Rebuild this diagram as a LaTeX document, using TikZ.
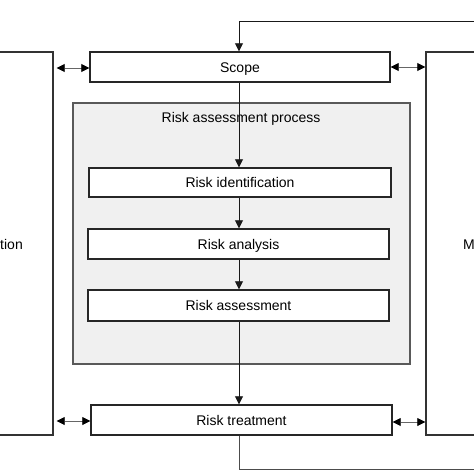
\documentclass[tikz,border=0pt]{standalone}
\usepackage{fontspec}
\setmainfont{Liberation Sans}
\usetikzlibrary{arrows.meta}
\begin{document}
\begin{tikzpicture}[x=1pt,y=-1pt,
  box/.style={draw=black!85,line width=1.4pt,fill=white,minimum width=#1,minimum height=30pt,inner sep=0pt,text height=10pt,text depth=0pt,font=\fontsize{14}{16}\selectfont},
  bigbox/.style={draw=black!80,line width=1.4pt,fill=white,inner sep=0pt},
  grp/.style={draw=black!65,line width=1.2pt,fill=black!6,inner sep=0pt},
  flow/.style={draw=black!90,line width=0.8pt,-{Triangle[length=8pt,width=8pt]}},
  dbl/.style={draw=black!60,line width=0.8pt,{Triangle[length=8pt,width=8pt,black]}-{Triangle[length=8pt,width=8pt,black]}},
  lbl/.style={font=\fontsize{14}{16}\selectfont,inner sep=0pt,text height=10pt,text depth=0pt}]
\useasboundingbox (0,0) rectangle (474,474);
\clip (0,0) rectangle (474,474);
% side boxes
\node[bigbox,minimum width=73pt,minimum height=383pt] (left) at (16.5,243.5) {};
\node[bigbox,minimum width=68pt,minimum height=383pt] (right) at (460,243.5) {};
\node[lbl,anchor=east] (lefttext) at (23,244) {tion};
\node[lbl,anchor=west] (righttext) at (463,244) {M};
% group
\node[grp,minimum width=337pt,minimum height=261pt] (grp) at (241.5,233.5) {};
\node[lbl] (grptitle) at (241,117) {Risk assessment process};
% boxes
\node[box=300pt] (scope) at (240,67) {Scope};
\node[box=302pt,minimum height=29pt] (ident) at (240,182.5) {Risk identification};
\node[box=301pt] (anal) at (238.5,244) {Risk analysis};
\node[box=301pt,minimum height=31pt] (assess) at (238.5,305.5) {Risk assessment};
\node[box=301pt] (treat) at (241.5,420) {Risk treatment};
% axis
\coordinate (axis) at (239,0);
\coordinate (fbtop) at (490,21);
\coordinate (fbbot) at (490,469);
\draw[flow] (scope.south -| axis) -- (ident.north -| axis);
\draw[flow] (ident.south -| axis) -- (anal.north -| axis);
\draw[flow] (anal.south -| axis) -- (assess.north -| axis);
\draw[flow] (assess.south -| axis) -- (treat.north -| axis);
\draw[flow] (fbtop) -- (fbtop -| axis) -- (scope.north -| axis);
\draw[draw=black!70,line width=1pt] (treat.south -| axis) -- (fbbot -| axis) -- (fbbot);
% side arrows
\draw[dbl] ([yshift=-1pt]scope.west -| left.east) ++(3,0) -- ([yshift=-1pt]scope.west);
\draw[dbl] (scope.east) -- (scope.east -| right.west);
\draw[dbl] ([yshift=-1pt]treat.west -| left.east) ++(3,0) -- ([yshift=-1pt]treat.west);
\draw[dbl] ([yshift=-2pt]treat.east) -- ([yshift=-2pt]treat.east -| right.west);
\end{tikzpicture}
\end{document}
